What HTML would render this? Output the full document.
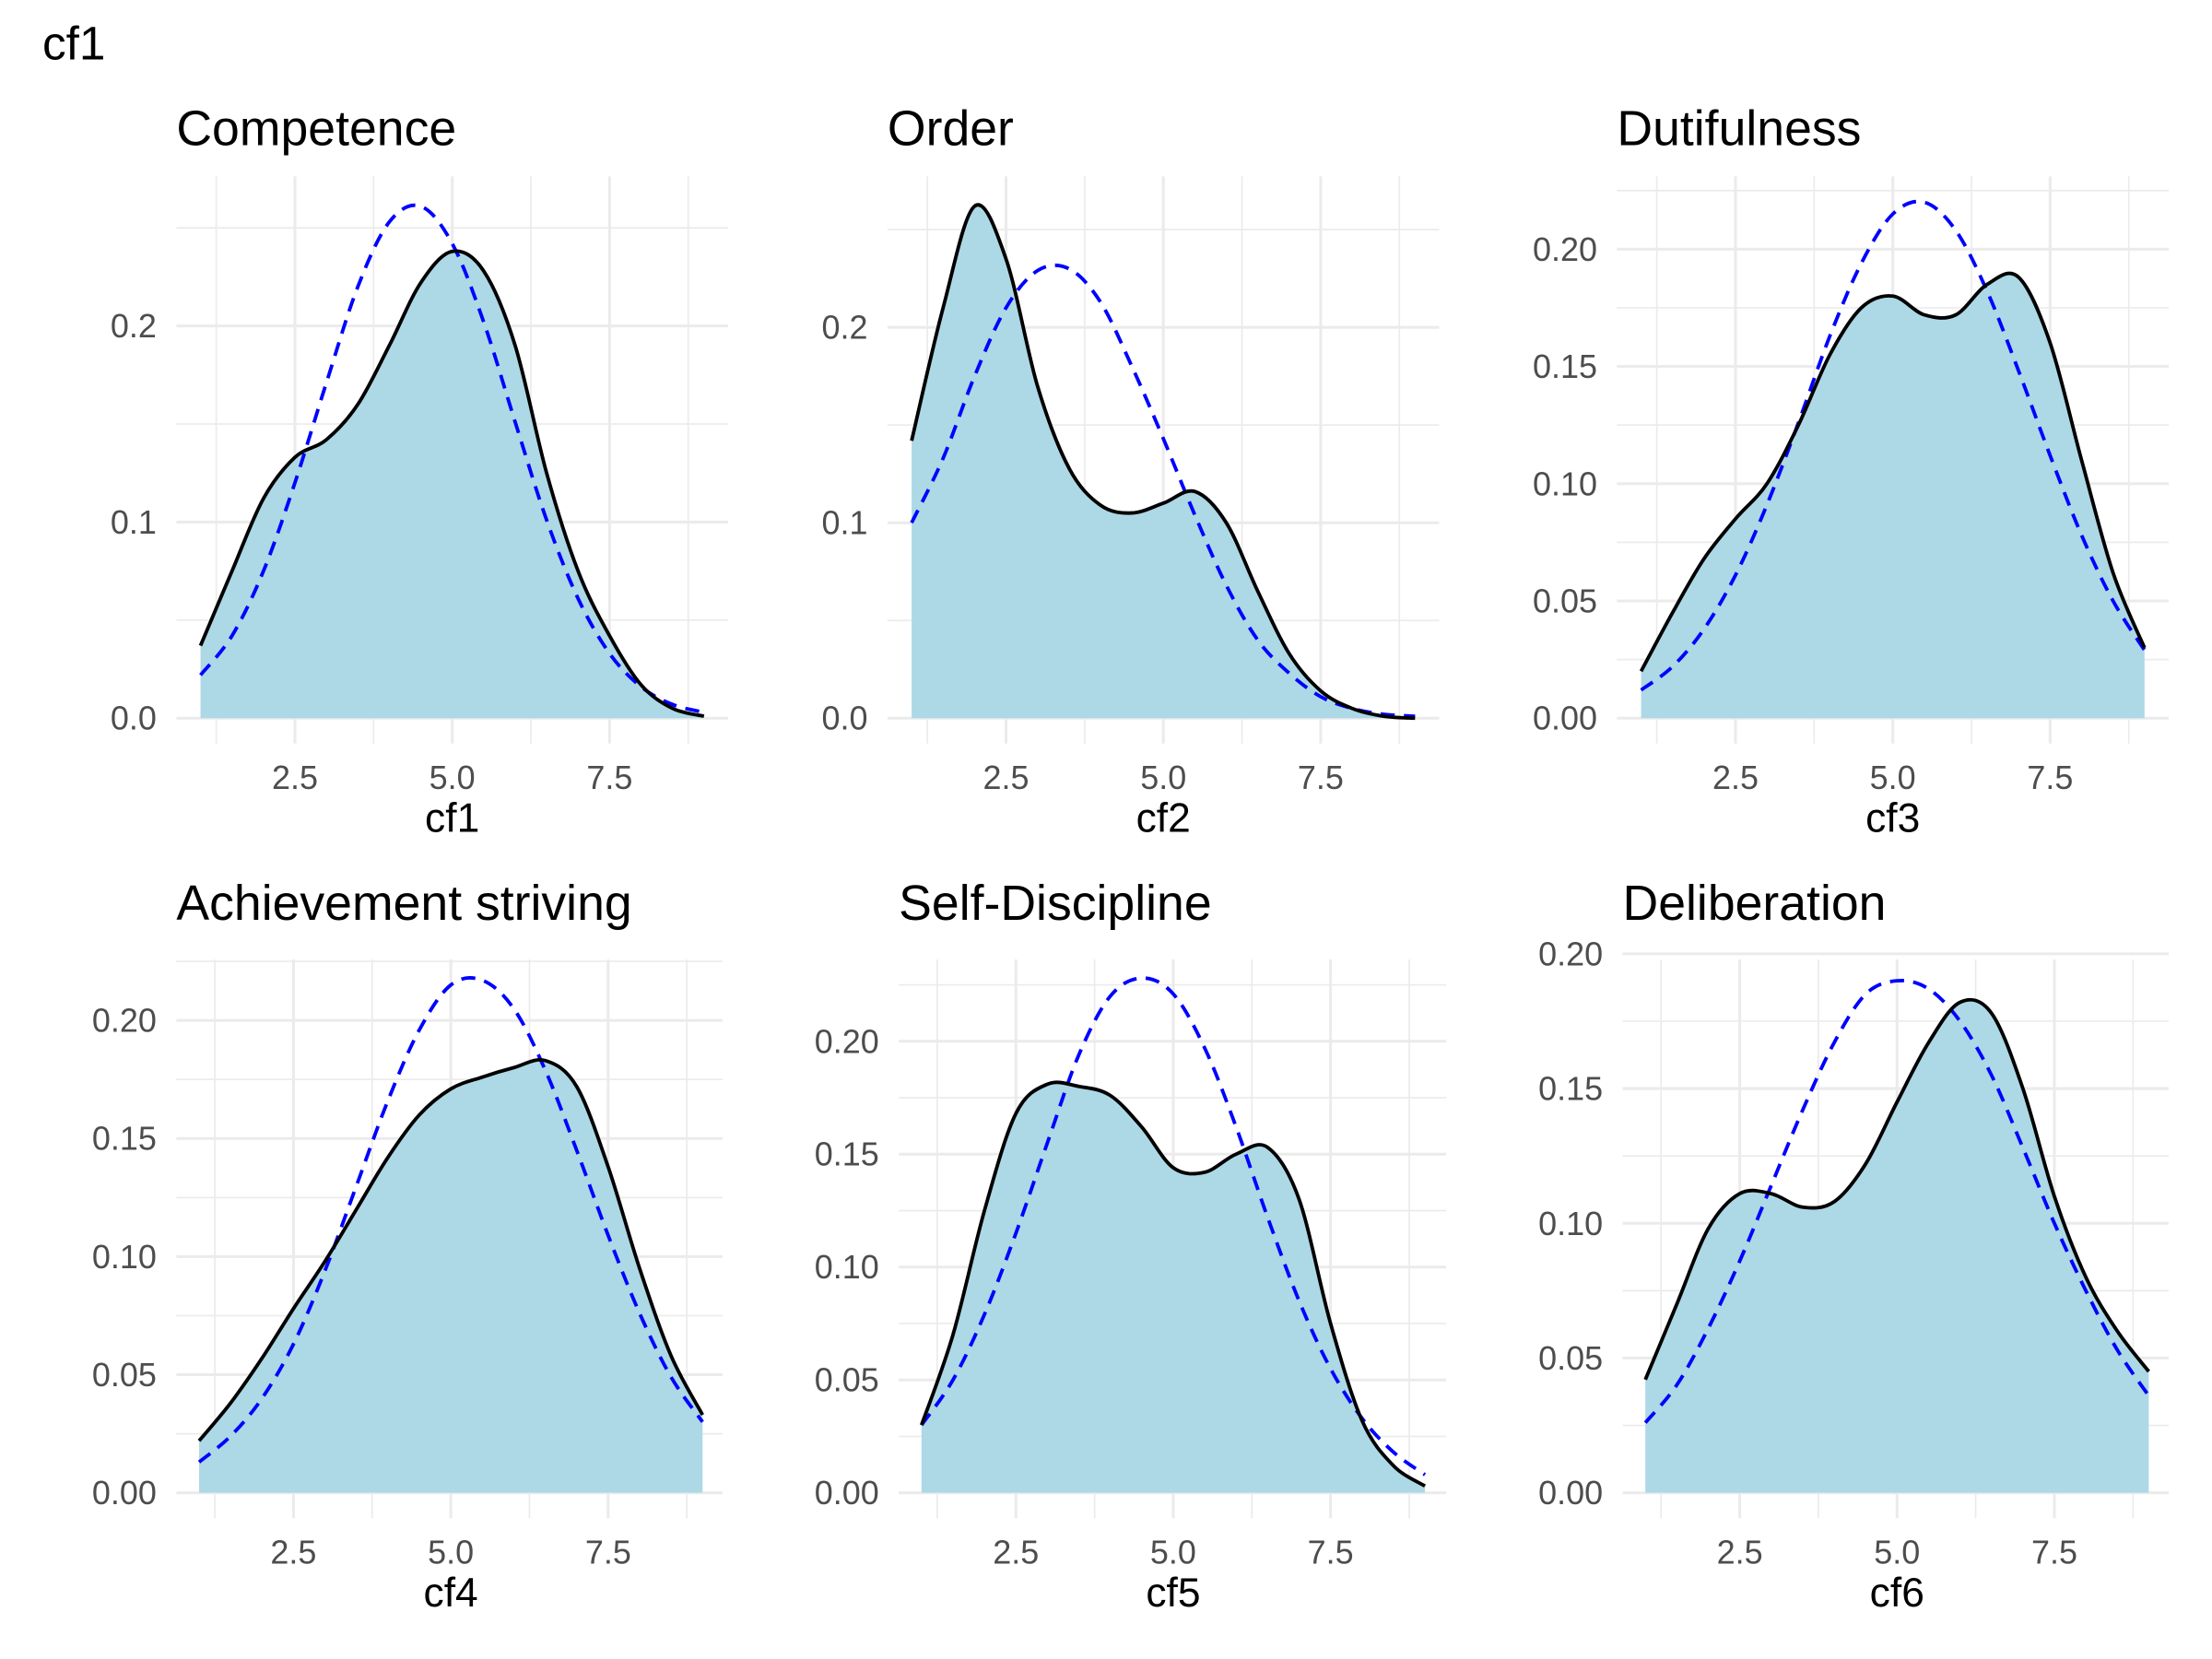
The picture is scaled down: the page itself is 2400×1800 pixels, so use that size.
<!DOCTYPE html>
<html><head><meta charset="utf-8"><style>
html,body{margin:0;padding:0;background:#fff;}
svg{display:block;font-family:"Liberation Sans",Arial,sans-serif;}
</style></head><body>
<svg id="chart" width="2400" height="1800" viewBox="0 0 1567.7 1175.8" xmlns="http://www.w3.org/2000/svg">
<rect width="1567.7" height="1175.8" fill="#fff"/>
<text x="30" y="42" font-size="33.5" fill="#000">cf1</text>
</svg>
<script>
const titles = ["Competence","Order","Dutifulness","Achievement striving","Self-Discipline","Deliberation"];
const axisNames = ["cf1","cf2","cf3","cf4","cf5","cf6"];
const xGrid = [1,1.5,2,2.5,3,3.5,4,4.5,5,5.5,6,6.5,7,7.5,8,8.5,9];
const xTicks = [2.5,5.0,7.5];
const xTickLabels = ["2.5","5.0","7.5"];
const densCf1 = [0.037,0.075,0.112,0.133,0.142,0.16,0.19,0.222,0.238,0.228,0.19,0.125,0.075,0.042,0.017,0.005,0.001];
const normCf1 = [0.022,0.042,0.075,0.12,0.171,0.22,0.253,0.261,0.242,0.202,0.151,0.101,0.061,0.033,0.016,0.007,0.003];
const densCf2 = [0.142,0.21,0.262,0.235,0.17,0.128,0.109,0.105,0.11,0.116,0.1,0.065,0.033,0.014,0.005,0.001,0.0];
const normCf2 = [0.1,0.133,0.175,0.21,0.229,0.23,0.213,0.18,0.143,0.104,0.068,0.04,0.023,0.011,0.005,0.002,0.001];
const densCf3 = [0.02,0.045,0.068,0.085,0.1,0.125,0.155,0.175,0.18,0.172,0.172,0.185,0.188,0.16,0.11,0.062,0.03];
const normCf3 = [0.012,0.022,0.038,0.061,0.091,0.126,0.163,0.194,0.215,0.22,0.208,0.182,0.148,0.112,0.078,0.05,0.029];
const densCf4 = [0.022,0.038,0.057,0.078,0.098,0.12,0.142,0.16,0.171,0.176,0.18,0.183,0.172,0.138,0.095,0.058,0.033];
const normCf4 = [0.013,0.024,0.04,0.063,0.094,0.13,0.166,0.196,0.215,0.217,0.205,0.179,0.145,0.109,0.076,0.049,0.03];
const densCf5 = [0.03,0.07,0.125,0.168,0.181,0.18,0.176,0.162,0.144,0.142,0.15,0.153,0.13,0.075,0.032,0.012,0.003];
const normCf5 = [0.03,0.05,0.079,0.115,0.155,0.194,0.22,0.228,0.221,0.197,0.162,0.122,0.085,0.055,0.033,0.018,0.008];
const densCf6 = [0.042,0.07,0.098,0.111,0.111,0.106,0.108,0.122,0.145,0.167,0.182,0.178,0.15,0.11,0.08,0.06,0.045];
const normCf6 = [0.026,0.04,0.061,0.086,0.114,0.142,0.167,0.185,0.19,0.187,0.175,0.155,0.128,0.1,0.075,0.053,0.036];
const densities = [densCf1,densCf2,densCf3,densCf4,densCf5,densCf6];
const normals = [normCf1,normCf2,normCf3,normCf4,normCf5,normCf6];
const yTicks1 = [0,0.1,0.2];
const yTicks2 = [0,0.05,0.1,0.15,0.2];
const yTickSets = [yTicks1,yTicks1,yTicks2,yTicks2,yTicks2,yTicks2];

const NS = "http://www.w3.org/2000/svg";
const svg = document.getElementById("chart");
const panels = [
 {left:125,right:516,top:125,bottom:527,x25:209,y0:509,per:1390,dec:1,tb:103},
 {left:629,right:1020,top:125,bottom:527,x25:713,y0:509,per:1385,dec:1,tb:103},
 {left:1146,right:1537,top:125,bottom:527,x25:1230,y0:509,per:1662,dec:2,tb:103},
 {left:125,right:512,top:680,bottom:1076,x25:208,y0:1058,per:1674,dec:2,tb:652},
 {left:637,right:1025,top:680,bottom:1076,x25:720,y0:1058,per:1600,dec:2,tb:652},
 {left:1150,right:1537,top:680,bottom:1076,x25:1233,y0:1058,per:1910,dec:2,tb:652}
];
const K = 44.6;
function mk(tag, attrs, parent){const e=document.createElementNS(NS,tag);for(const k in attrs)e.setAttribute(k,attrs[k]);(parent||svg).appendChild(e);return e;}
function smooth(pts){
  let d="M"+pts[0][0].toFixed(2)+","+pts[0][1].toFixed(2);
  for(let i=0;i<pts.length-1;i++){
    const p0=pts[Math.max(0,i-1)],p1=pts[i],p2=pts[i+1],p3=pts[Math.min(pts.length-1,i+2)];
    const c1=[p1[0]+(p2[0]-p0[0])/6,p1[1]+(p2[1]-p0[1])/6];
    const c2=[p2[0]-(p3[0]-p1[0])/6,p2[1]-(p3[1]-p1[1])/6];
    d+=" C"+c1[0].toFixed(2)+","+c1[1].toFixed(2)+" "+c2[0].toFixed(2)+","+c2[1].toFixed(2)+" "+p2[0].toFixed(2)+","+p2[1].toFixed(2);
  }
  return d;
}
panels.forEach((p,i)=>{
  const g = mk("g",{});
  
  
  const xs = v => p.x25 + (v-2.5)*K;
  const ys = v => p.y0 - v*p.per;
  const yt = yTickSets[i];
  const step = yt[1]-yt[0];
  for(let v=step/2; ys(v)>=p.top-1; v+=step){
    const l=mk("line",{x1:p.left,x2:p.right,y1:ys(v),y2:ys(v),stroke:"#ebebeb","stroke-width":1.1},g);
    
    
  }
  [1.25,3.75,6.25,8.75].forEach(v=>{
    const l=mk("line",{x1:xs(v),x2:xs(v),y1:p.top,y2:p.bottom,stroke:"#ebebeb","stroke-width":1.1},g);
    
    
  });
  yt.forEach(v=>{
    const l=mk("line",{x1:p.left,x2:p.right,y1:ys(v),y2:ys(v),stroke:"#ebebeb","stroke-width":2},g);
    
    
    const t=mk("text",{x:p.left-14,y:ys(v),"text-anchor":"end","dominant-baseline":"central","font-size":23.5,fill:"#4d4d4d"},g);
    t.textContent=v.toFixed(p.dec);
    
    
  });
  xTicks.forEach((v,j)=>{
    const l=mk("line",{x1:xs(v),x2:xs(v),y1:p.top,y2:p.bottom,stroke:"#ebebeb","stroke-width":2},g);
    
    
    const t=mk("text",{x:xs(v),y:p.y0+42,"text-anchor":"middle","dominant-baseline":"central","font-size":23.5,fill:"#4d4d4d"},g);
    t.textContent=xTickLabels[j];
    
    
  });
  const dpts = xGrid.map((x,k)=>[xs(x),ys(densities[i][k])]);
  const npts = xGrid.map((x,k)=>[xs(x),ys(normals[i][k])]);
  const dPath = smooth(dpts);
  const area = mk("path",{d:dPath+" L"+xs(9)+","+ys(0)+" L"+xs(1)+","+ys(0)+" Z",fill:"#add8e6",stroke:"none"},g);
  
  
  const norm = mk("path",{d:smooth(npts),fill:"none",stroke:"#0000ff","stroke-width":2.5,"stroke-dasharray":"10 6.5"},g);
  
  
  const line = mk("path",{d:dPath,fill:"none",stroke:"#000","stroke-width":2.5},g);
  
  
  const tt = mk("text",{x:p.left,y:p.tb,"font-size":35,fill:"#000"},g);
  tt.textContent = titles[i];
  
  
  const ax = mk("text",{x:xs(5),y:p.y0+71,"text-anchor":"middle","dominant-baseline":"central","font-size":29,fill:"#000"},g);
  ax.textContent = axisNames[i];
  
  
});
</script>
</body></html>
